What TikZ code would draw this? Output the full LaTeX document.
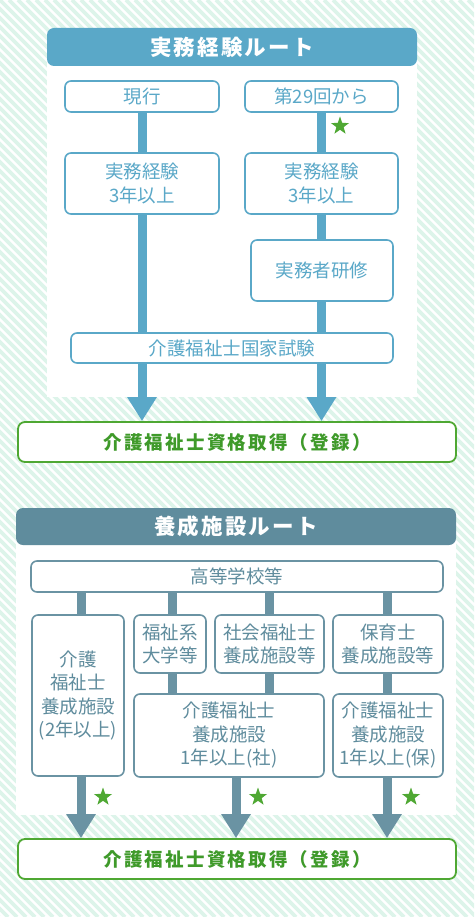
\documentclass[tikz,border=0pt]{standalone}
\usepackage{fontspec}
\setmainfont{Noto Sans CJK JP}
\usetikzlibrary{arrows.meta,shapes.geometric}
\definecolor{routeblue}{HTML}{5AA8C8}
\definecolor{routeslate}{HTML}{5F8C9D}
\definecolor{slateline}{HTML}{6A93A3}
\definecolor{okgreen}{HTML}{4FA833}
\definecolor{okgreentext}{HTML}{3F9A2A}
\definecolor{stripegreen}{HTML}{DDF4EA}
\tikzset{
 boxfont/.style={font=\fontsize{18.5}{23.5}\selectfont},
 boxA/.style={boxfont,draw=routeblue,text=routeblue,fill=white,line width=1.6pt,rounded corners=6pt,align=center,inner sep=0pt},
 boxB/.style={boxfont,draw=slateline,text=routeslate,fill=white,line width=1.6pt,rounded corners=6pt,align=center,inner sep=0pt},
 headbar/.style={fill=#1,text=white,rounded corners=7pt,inner sep=0pt,font=\fontsize{21.5}{24}\selectfont\bfseries\addfontfeature{LetterSpace=10}},
 resultbox/.style={draw=okgreen,text=okgreentext,fill=white,line width=1.8pt,rounded corners=7pt,inner sep=0pt,minimum width=438pt,minimum height=40pt,font=\fontsize{18.5}{20}\selectfont\bfseries\addfontfeature{LetterSpace=12}},
 barA/.style={routeblue,line width=9pt},
 barB/.style={slateline,line width=9pt},
 arrA/.style={barA,-{Triangle[width=28pt,length=24pt]}},
 arrB/.style={barB,-{Triangle[width=28pt,length=24pt]}},
 greenstar/.style={star,star points=5,star point ratio=2.5,fill=okgreen,minimum size=19pt,inner sep=0pt}
}
\begin{document}
\begin{tikzpicture}[x=1pt,y=-1pt]
 \useasboundingbox (0,0) rectangle (474,917);
 \begin{scope}
  \clip (0,0) rectangle (474,917);
  \foreach \s in {-927,-918,...,480}
   \draw[stripegreen,line width=3.6pt] (\s,0) -- ++(917,917);
 \end{scope}
 \fill[white] (47,50) rectangle (417,397);
 \fill[white] (16,530) rectangle (456,815);
 % route 1
 \node[headbar=routeblue,minimum width=370pt,minimum height=38pt] (head1) at (232,47) {実務経験ルート};
 \node[boxA,minimum width=154pt,minimum height=31pt] (genko) at (142,96.5) {現行};
 \node[boxA,minimum width=153pt,minimum height=31pt] (dai29) at (321.5,96.5) {第29回から};
 \node[boxA,minimum width=154pt,minimum height=61pt] (jitsu1) at (142,183.5) {実務経験\\3年以上};
 \node[boxA,minimum width=153pt,minimum height=61pt] (jitsu2) at (321.5,183.5) {実務経験\\3年以上};
 \node[boxA,minimum width=142pt,minimum height=61pt] (kenshu) at (322,270.5) {実務者研修};
 \node[boxA,minimum width=322pt,minimum height=30pt] (shiken) at (232,348) {介護福祉士国家試験};
 \node[resultbox] (result1) at (237,442) {介護福祉士資格取得（登録）};
 \draw[barA] (genko) -- (jitsu1);
 \draw[barA] (jitsu1.south) -- (shiken.north -| jitsu1);
 \draw[barA] (dai29) -- (jitsu2);
 \draw[barA] (jitsu2.south -| dai29) -- (kenshu.north -| dai29);
 \draw[barA] (kenshu.south -| dai29) -- (shiken.north -| dai29);
 \draw[arrA] (shiken.south -| jitsu1) -- (result1.north -| jitsu1);
 \draw[arrA] (shiken.south -| dai29) -- (result1.north -| dai29);
 \node[greenstar] (st0) at (340,126) {};
 % route 2
 \node[headbar=routeslate,minimum width=440pt,minimum height=37pt] (head2) at (236,526.5) {養成施設ルート};
 \node[boxB,minimum width=412pt,minimum height=31pt] (koto) at (237,576.5) {高等学校等};
 \node[boxB,minimum width=92pt,minimum height=161pt] (kaigo2) at (78,695.5) {介護\\福祉士\\養成施設\\(2年以上)};
 \node[boxB,minimum width=72pt,minimum height=58pt] (fukushi) at (170,644) {福祉系\\大学等};
 \node[boxB,minimum width=109pt,minimum height=58pt] (shakai) at (269.5,644) {社会福祉士\\養成施設等};
 \node[boxB,minimum width=110pt,minimum height=58pt] (hoiku) at (388,644) {保育士\\養成施設等};
 \node[boxB,minimum width=190pt,minimum height=83pt] (sha1) at (229,735.5) {介護福祉士\\養成施設\\1年以上(社)};
 \node[boxB,minimum width=110pt,minimum height=83pt] (ho1) at (388,735.5) {介護福祉士\\養成施設\\1年以上(保)};
 \node[resultbox] (result2) at (237,859) {介護福祉士資格取得（登録）};
 \coordinate (k1) at (81,0);
 \coordinate (k2) at (172,0);
 \coordinate (k3) at (269,0);
 \coordinate (k4) at (387,0);
 \coordinate (k5) at (236,0);
 \draw[barB] (koto.south -| k1) -- (kaigo2.north -| k1);
 \draw[barB] (koto.south -| k2) -- (fukushi.north -| k2);
 \draw[barB] (koto.south -| k3) -- (shakai.north -| k3);
 \draw[barB] (koto.south -| k4) -- (hoiku.north -| k4);
 \draw[barB] (fukushi.south -| k2) -- (sha1.north -| k2);
 \draw[barB] (shakai.south -| k3) -- (sha1.north -| k3);
 \draw[barB] (hoiku.south -| k4) -- (ho1.north -| k4);
 \draw[arrB] (kaigo2.south -| k1) -- (result2.north -| k1);
 \draw[arrB] (sha1.south -| k5) -- (result2.north -| k5);
 \draw[arrB] (ho1.south -| k4) -- (result2.north -| k4);
 \foreach \x/\id in {103/1,258/2,411/3}
  \node[greenstar] (st\id) at (\x,797) {};
\end{tikzpicture}
\end{document}
